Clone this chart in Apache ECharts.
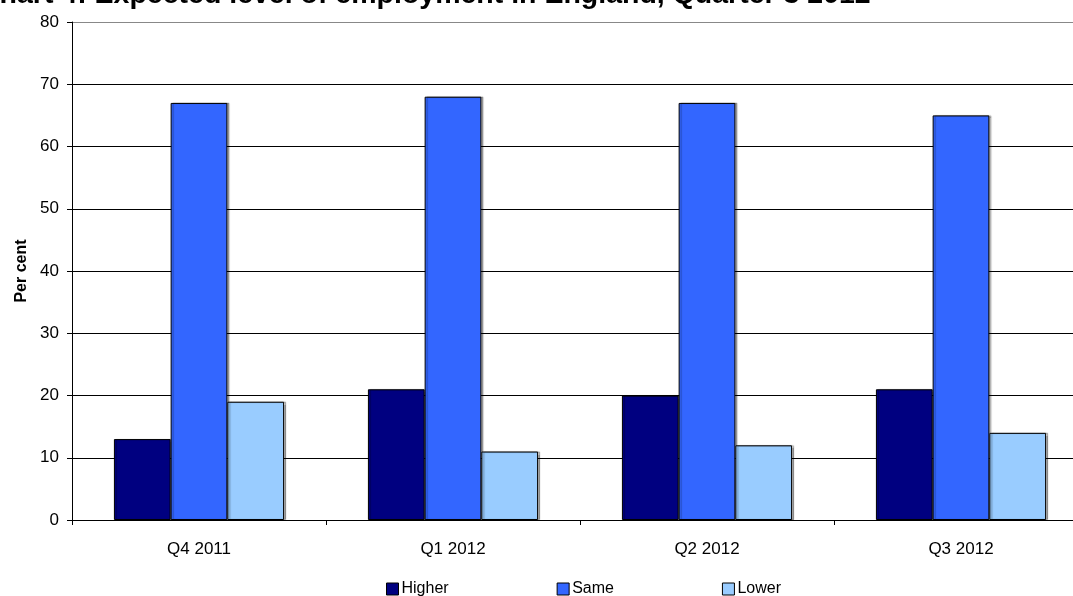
<!DOCTYPE html>
<html>
<head>
<meta charset="utf-8">
<script src="https://cdn.jsdelivr.net/npm/echarts@6/dist/echarts.min.js"></script>
<style>
  html, body { margin: 0; padding: 0; background: #fff; overflow: hidden; }
  #chart { width: 1090px; height: 596px; }
</style>
</head>
<body>
<div id="chart"></div>
<script>
// Quarters on the category axis
const quarters = ['Q4 2011', 'Q1 2012', 'Q2 2012', 'Q3 2012'];
// Share of respondents expecting each level of employment (per cent)
const higher = [13, 21, 20, 21];
const same = [67, 68, 67, 65];
const lower = [19, 11, 12, 14];
const seriesNames = ['Higher', 'Same', 'Lower'];
const yTicks = [0, 10, 20, 30, 40, 50, 60, 70, 80];

const colors = ['#000080', '#3366FF', '#99CCFF'];
const font = 'Liberation Sans, Arial, sans-serif';

const chart = echarts.init(document.getElementById('chart'));

function barSeries(name, data, color) {
  return {
    name: name,
    type: 'bar',
    data: data,
    barGap: '0%',
    barCategoryGap: '33%',
    itemStyle: {
      color: color,
      borderColor: '#000',
      borderWidth: 1,
      shadowColor: 'rgba(0,0,0,0.3)',
      shadowOffsetX: 2,
      shadowOffsetY: 0,
      shadowBlur: 1
    },
    emphasis: { disabled: true }
  };
}

chart.setOption({
  animation: false,
  backgroundColor: '#fff',
  textStyle: { fontFamily: font },
  title: {
    text: 'Chart 4: Expected level of employment in England, Quarter 3 2012',
    left: -21,
    top: -19,
    padding: 0,
    textStyle: { fontFamily: font, fontSize: 28.5, fontWeight: 'bold', color: '#000' }
  },
  legend: {
    data: seriesNames,
    left: 386,
    top: 581,
    padding: 0,
    itemWidth: 12,
    itemHeight: 12,
    itemGap: 108,
    icon: 'rect',
    textStyle: { fontFamily: font, fontSize: 16, color: '#000', padding: [0, 0, 0, -2] },
    itemStyle: { borderColor: '#000', borderWidth: 1 }
  },
  grid: {
    left: 72,
    top: 22,
    width: 1016,
    height: 498,
    containLabel: false
  },
  xAxis: {
    type: 'category',
    data: quarters,
    axisLine: { lineStyle: { color: '#000', width: 1 } },
    axisTick: { show: true, length: 5, alignWithLabel: false, lineStyle: { color: '#000' } },
    axisLabel: { fontFamily: font, fontSize: 17, color: '#000', margin: 21 },
    splitLine: { show: false }
  },
  yAxis: {
    type: 'value',
    min: yTicks[0],
    max: yTicks[yTicks.length - 1],
    interval: 10,
    name: 'Per cent',
    nameLocation: 'middle',
    nameGap: 42,
    nameRotate: 90,
    nameTextStyle: { fontFamily: font, fontSize: 16, fontWeight: 'bold', color: '#000' },
    axisLine: { show: true, lineStyle: { color: '#000', width: 1 } },
    axisTick: { show: true, length: 5, inside: false, lineStyle: { color: '#000' } },
    axisLabel: { fontFamily: font, fontSize: 17, color: '#000', margin: 13 },
    splitLine: {
      show: true,
      lineStyle: {
        color: yTicks.map((v, i) => i === yTicks.length - 1 ? '#888' : '#000'),
        width: 1
      }
    }
  },
  series: [
    barSeries(seriesNames[0], higher, colors[0]),
    barSeries(seriesNames[1], same, colors[1]),
    barSeries(seriesNames[2], lower, colors[2])
  ]
});
</script>
</body>
</html>
